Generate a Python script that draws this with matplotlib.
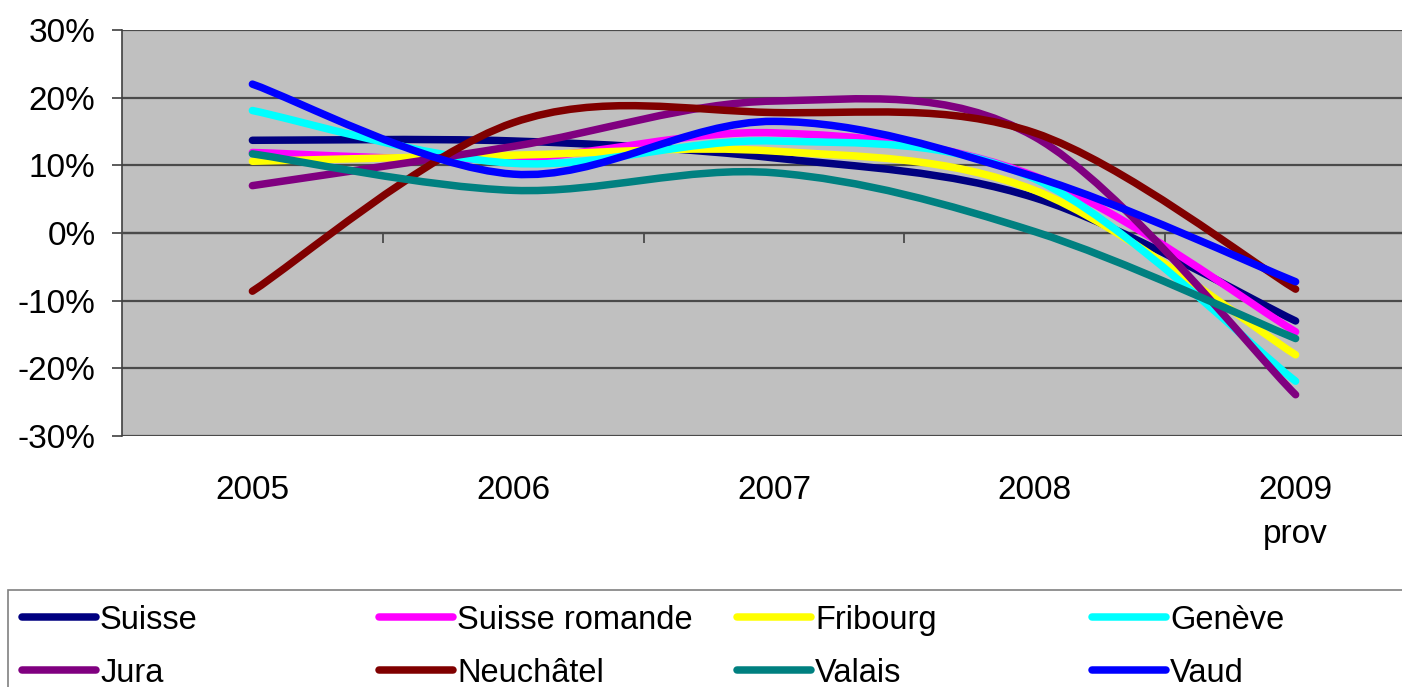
import numpy as np
import matplotlib.pyplot as plt
from matplotlib.path import Path
from matplotlib.patches import PathPatch, Rectangle
from matplotlib.lines import Line2D

plt.rcParams['font.family'] = ['Liberation Sans', 'DejaVu Sans']

# --- Data (annual change, %) ---
years = ["2005", "2006", "2007", "2008", "2009\nprov"]
suisse = [13.7, 13.6, 11.1, 5.2, -13.0]
suisse_romande = [11.9, 11.0, 14.8, 8.4, -14.6]
fribourg = [10.6, 11.5, 12.1, 6.3, -18.0]
geneve = [18.1, 10.3, 13.6, 8.0, -21.9]
jura = [7.0, 12.8, 19.5, 14.2, -23.9]
neuchatel = [-8.6, 16.3, 17.8, 14.8, -8.3]
valais = [11.7, 6.3, 8.9, 0.2, -15.6]
vaud = [22.0, 8.7, 16.5, 8.3, -7.2]

series = [
    ("Suisse", suisse, "#000080"),
    ("Suisse romande", suisse_romande, "#FF00FF"),
    ("Fribourg", fribourg, "#FFFF00"),
    ("Genève", geneve, "#00FFFF"),
    ("Jura", jura, "#800080"),
    ("Neuchâtel", neuchatel, "#800000"),
    ("Valais", valais, "#008080"),
    ("Vaud", vaud, "#0000FF"),
]

W, H = 1402, 687
FS = 24


def smooth_path(xs, ys):
    """Excel-like smoothed line: cubic bezier through the points."""
    pts = np.column_stack([xs, ys]).astype(float)
    p = np.vstack([pts[0], pts, pts[-1]])
    verts = [pts[0]]
    codes = [Path.MOVETO]
    for i in range(len(pts) - 1):
        p0, p1, p2, p3 = p[i], p[i + 1], p[i + 2], p[i + 3]
        verts += [p1 + (p2 - p0) / 6, p2 - (p3 - p1) / 6, p2]
        codes += [Path.CURVE4] * 3
    return Path(verts, codes)


def fx(px):
    return px / W


def fy(py):
    return 1 - py / H


fig = plt.figure(figsize=(W / 100, H / 100), dpi=100)
ax = fig.add_axes([fx(122), fy(436), (1426 - 122) / W, (436 - 30) / H])
ax.set_facecolor("#C0C0C0")

x = np.arange(len(years))
for name, vals, color in series:
    patch = PathPatch(smooth_path(x, vals), facecolor="none", edgecolor=color,
                      lw=5.4, capstyle="round", joinstyle="round", zorder=3)
    ax.add_patch(patch)

ax.set_xlim(-0.5, 4.5)
ax.set_ylim(-30, 30)
ax.set_yticks(np.arange(-30, 31, 10))
ax.set_yticklabels([f"{v}%" for v in range(-30, 31, 10)], fontsize=FS)
ax.yaxis.grid(True, color="#4a4a4a", lw=1.6, zorder=1)
ax.set_axisbelow(True)
ax.tick_params(axis="y", length=7, width=1.2, color="#404040", pad=12)

for s in ["top", "right"]:
    ax.spines[s].set_visible(False)
ax.spines["left"].set_color("#404040")
ax.spines["left"].set_linewidth(1.2)
ax.spines["bottom"].set_position(("data", 0))
ax.spines["bottom"].set_color("#4a4a4a")
ax.spines["bottom"].set_linewidth(1.6)
ax.set_xticks([0.5, 1.5, 2.5, 3.5])
ax.set_xticklabels([])
ax.tick_params(axis="x", length=7, width=1.2, color="#404040", direction="out")

for i, lab in enumerate(years):
    ax.text(i, -0.095, lab, transform=ax.get_xaxis_transform(), ha="center",
            va="top", fontsize=FS, linespacing=1.55)

# --- Legend (Excel-style fixed columns) ---
fig.patches.append(Rectangle((fx(8), fy(700)), fx(1420), fy(590) - fy(700),
                             transform=fig.transFigure, facecolor="white",
                             edgecolor="#808080", lw=1.2))
col_x = [18, 375, 733, 1088]
row_y = [617, 670]
for k, (name, vals, color) in enumerate(series):
    cx = col_x[k % 4]
    ry = row_y[k // 4]
    fig.lines.append(Line2D([fx(cx + 4), fx(cx + 78)], [fy(ry), fy(ry)],
                            transform=fig.transFigure, color=color, lw=5.4,
                            solid_capstyle="round"))
    fig.text(fx(cx + 82), fy(ry), name, fontsize=FS - 0.5, va="center_baseline", ha="left")

fig.savefig("out.png", dpi=100)
